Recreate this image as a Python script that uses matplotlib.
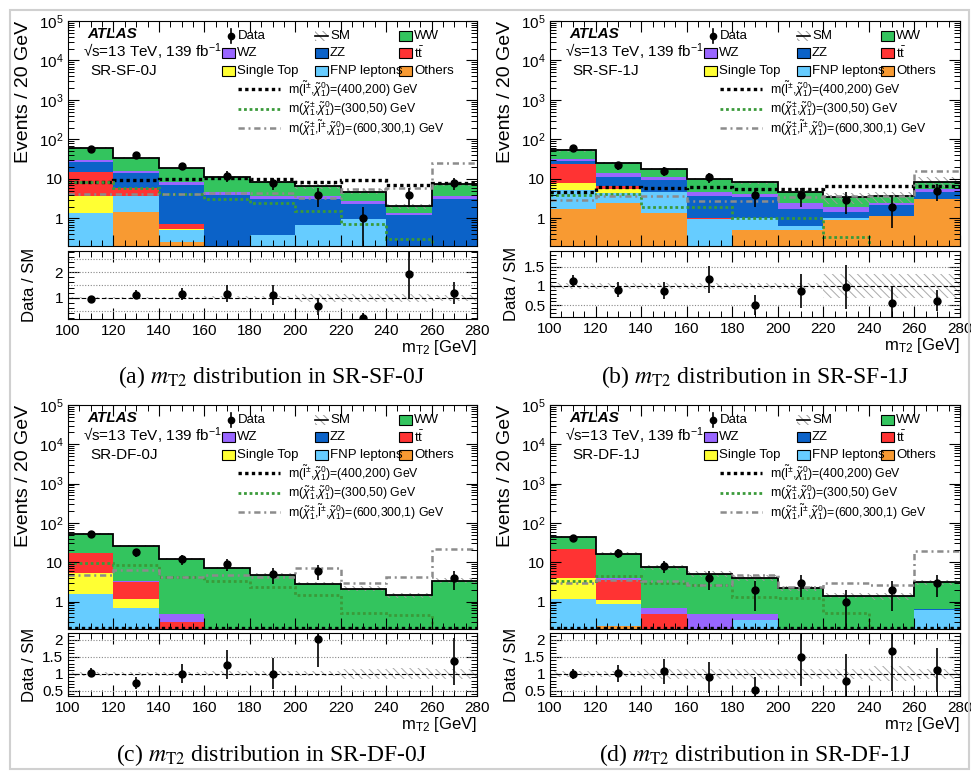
import numpy as np
import matplotlib.pyplot as plt
from matplotlib.patches import Rectangle
from matplotlib.ticker import MultipleLocator, AutoMinorLocator, FixedLocator, FuncFormatter, LogLocator

plt.rcParams['font.family'] = ['Liberation Sans', 'DejaVu Sans']
plt.rcParams['mathtext.fontset'] = 'custom'
plt.rcParams['mathtext.rm'] = 'Liberation Sans'
plt.rcParams['mathtext.it'] = 'Liberation Sans:italic'
plt.rcParams['mathtext.bf'] = 'Liberation Sans:bold'
plt.rcParams['hatch.linewidth'] = 0.7

edges = np.arange(100, 281, 20)
regions = ['SR-SF-0J', 'SR-SF-1J', 'SR-DF-0J', 'SR-DF-1J']
letters = ['a', 'b', 'c', 'd']

# backgrounds per region (rows: SF-0J, SF-1J, DF-0J, DF-1J), bins of 20 GeV from 100 to 280
others = [[0, 1.48, 0.26, 0, 0, 0, 0, 0.02, 0],
          [1.7, 2.5, 1.34, 0, 0.5, 0.5, 0.9, 1.15, 3.07],
          [0, 0, 0, 0, 0, 0, 0, 0, 0],
          [0, 0.245, 0, 0, 0, 0, 0, 0, 0]]
fnp = [[1.4, 2.12, 0.24, 0.05, 0.37, 0.67, 0.94, 0.05, 0.05],
       [3.4, 2.0, 3.46, 0.97, 0.5, 0.15, 0.14, 0, 0],
       [1.57, 0.69, 0, 0, 0, 0, 0, 0, 0],
       [1.17, 0.6, 0, 0, 0.34, 0, 0, 0, 0.6]]
single_top = [[2.3, 0, 0.04, 0, 0, 0, 0, 0, 0],
              [2.8, 1.0, 0, 0, 0, 0, 0, 0, 0],
              [3.83, 0.48, 0, 0, 0, 0, 0, 0, 0],
              [2.83, 0.22, 0, 0, 0, 0, 0, 0, 0]]
ttbar = [[11.1, 2.3, 0.2, 0, 0, 0, 0, 0, 0],
         [15.6, 1.2, 0, 0.03, 0, 0, 0, 0, 0],
         [11.9, 2.03, 0.3, 0, 0, 0, 0, 0, 0],
         [18.2, 2.54, 0.49, 0, 0, 0, 0, 0, 0]]
zz = [[12.2, 8.1, 6.26, 3.95, 2.73, 2.43, 1.36, 1.15, 3.05],
      [4.5, 4.5, 4.8, 2.6, 2.5, 1.09, 0.44, 1.05, 1.73],
      [0, 0, 0, 0, 0, 0, 0, 0, 0],
      [0, 0, 0, 0, 0, 0, 0, 0, 0.03]]
wz = [[3.0, 2.3, 1.2, 0.8, 0.5, 0.5, 0.4, 0.12, 0.5],
      [4.6, 3.1, 1.6, 1.2, 0.6, 0.66, 0.42, 0.3, 0.85],
      [0, 0.2, 0.17, 0, 0, 0, 0, 0, 0],
      [0, 0.4, 0.2, 0.49, 0.13, 0, 0, 0, 0.03]]
ww = [[30, 18.2, 10.2, 6.2, 4.8, 2.9, 2.1, 0.73, 3.8],
      [20.4, 11.4, 6.8, 5.2, 4.1, 2.4, 1.5, 1.1, 2.75],
      [35.2, 22.1, 11.93, 7.2, 4.85, 2.87, 2.14, 1.45, 3.4],
      [21.8, 12.6, 6.8, 4.56, 3.53, 2.2, 1.42, 1.37, 2.5]]

# relative SM uncertainty
sm_unc = [[0.05, 0.05, 0.05, 0.06, 0.06, 0.15, 0.15, 0.15, 0.12],
          [0.08, 0.07, 0.07, 0.07, 0.07, 0.08, 0.32, 0.32, 0.3],
          [0.06, 0.06, 0.06, 0.07, 0.07, 0.07, 0.15, 0.16, 0.15],
          [0.08, 0.08, 0.15, 0.15, 0.15, 0.15, 0.15, 0.22, 0.15]]

data = [[56, 40, 21, 12, 8, 4, 1, 4, 8],
        [59, 22, 16, 11, 4, 4, 3, 2, 5],
        [52, 18, 12, 9, 5, 6, 0, 0, 4],
        [42, 17, 8, 4, 2, 3, 1, 2, 3]]

ratio = [[0.95, 1.12, 1.15, 1.17, 1.1, 0.67, 0.2, 1.91, 1.18],
         [1.14, 0.9, 0.88, 1.17, 0.51, 0.87, 0.98, 0.57, 0.62],
         [1.04, 0.74, 1.01, 1.27, 1.01, 2.02, np.nan, np.nan, 1.37],
         [0.99, 1.02, 1.07, 0.9, 0.54, 1.5, 0.79, 1.68, 1.12]]

# signal benchmarks
sig_slep = [[8.2, 9.6, 10, 10.6, 10.2, 8.2, 9.2, 7.2, 7.7],
            [4.8, 6.1, 5.9, 6.1, 5.5, 5.65, 6.7, 6.5, 6.5],
            [0.21, 0.21, 0.21, 0.21, 0.21, 0.21, 0.21, 0.21, 0.21],
            [0.21, 0.21, 0.21, 0.21, 0.21, 0.21, 0.21, 0.21, 0.21]]
sig_c1c1 = [[8.2, 5.9, 4.2, 3.1, 2.5, 1.5, 0.72, 0.3, 0.18],
            [4.0, 4.2, 1.9, 1.9, 1.0, 1.0, 0.34, 0.15, 0.15],
            [9.4, 8.3, 4.3, 3.3, 2.4, 1.5, 0.51, 0.45, 0.15],
            [3.4, 4.5, 3.0, 2.6, 1.3, 1.24, 0.52, 0.15, 0.15]]
sig_c1slep = [[4.2, 4.2, 4.2, 4.4, 4.5, 3.3, 5.4, 6.0, 25.7],
              [2.95, 3.7, 3.8, 2.8, 2.8, 3.5, 3.6, 3.7, 16],
              [4.6, 6.2, 4.2, 4.6, 4.3, 7.1, 2.9, 4.1, 22],
              [3.0, 3.5, 3.3, 2.6, 4.8, 2.3, 3.0, 2.6, 19.8]]

bkg_names = ['Others', 'FNP leptons', 'Single Top', r't$\bar{\mathrm{t}}$', 'ZZ', 'WZ', 'WW']
bkg_colors = ['#f89a32', '#66ccff', '#ffff33', '#ff3333', '#0b62c8', '#9966ff', '#33c45e']
sig_labels = [r'm($\tilde{\mathrm{l}}^{\pm}$,$\tilde{\chi}_{1}^{0}$)=(400,200) GeV',
              r'm($\tilde{\chi}_{1}^{\pm}$,$\tilde{\chi}_{1}^{0}$)=(300,50) GeV',
              r'm($\tilde{\chi}_{1}^{\pm}$,$\tilde{\mathrm{l}}^{\pm}$,$\tilde{\chi}_{1}^{0}$)=(600,300,1) GeV']
sig_styles = [dict(color='black', ls=(0, (1, 1)), lw=2.4),
              dict(color='#3a9a3a', ls=(0, (1, 1)), lw=2.0),
              dict(color='#8c8c8c', ls=(0, (2.5, 1.5, 0.8, 1.5)), lw=1.8)]

ratio_ylim = [(0.18, 2.82), (0.2, 1.9), (0.35, 2.2), (0.35, 2.2)]
ratio_ticks = [[1, 2], [0.5, 1, 1.5], [0.5, 1, 1.5, 2], [0.5, 1, 1.5, 2]]
ratio_grid = [[0.5, 1.5, 2, 2.5], [0.5, 1.5], [0.5, 1.5, 2], [0.5, 1.5, 2]]

W, H = 971, 772
main_px = [(68, 21, 477, 246), (550, 21, 960, 246), (68, 405, 477, 629), (550, 405, 960, 629)]
ratio_px = [(68, 251, 477, 319), (550, 251, 960, 317), (68, 633, 477, 696), (550, 633, 960, 696)]
caption_px = [(272, 377), (755, 377), (272, 755), (755, 755)]


def box(p):
    l, t, r, b = p
    return [l / W, 1 - b / H, (r - l) / W, (b - t) / H]


def style_axes(ax):
    ax.tick_params(which='both', direction='in', top=True, right=True, labelsize=11)
    ax.tick_params(which='major', length=8, width=0.8)
    ax.tick_params(which='minor', length=4, width=0.7)
    ax.xaxis.set_major_locator(MultipleLocator(20))
    ax.xaxis.set_minor_locator(MultipleLocator(5))
    ax.set_xlim(100, 280)


def log_fmt(v, pos):
    if v == 1:
        return '1'
    if v == 10:
        return '10'
    return r'$10^{%d}$' % round(np.log10(v))


def draw_legend(ax, p):
    l, t, r, b = p
    w, h = r - l, b - t

    def fx(dx):
        return dx / w

    def fy(dy):
        return 1 - dy / h

    kw = dict(transform=ax.transAxes, clip_on=False)
    rows = [14.7, 32.3, 49.7]
    cols = [154, 247, 331]
    bw, bh = 13, 10
    grid = [[None, 'SM', 6], [5, 4, 3], [2, 1, 0]]
    for ri, row in enumerate(grid):
        for ci, item in enumerate(row):
            x0, y0 = cols[ci], rows[ri]
            if ri == 0 and ci == 0:
                ax.plot([fx(x0 + 9)], [fy(y0)], 'o', color='black', ms=4.5, **kw)
                ax.plot([fx(x0 + 9)] * 2, [fy(y0 - 7), fy(y0 + 7)], color='black', lw=1.2, **kw)
                ax.text(fx(x0 + 16), fy(y0), 'Data', fontsize=9.5, va='center', ha='left', transform=ax.transAxes)
                continue
            if item == 'SM':
                ax.add_patch(Rectangle((fx(x0), fy(y0 + bh / 2)), bw / w, bh / h, fill=False, hatch='\\\\\\\\',
                                       edgecolor='#999999', lw=0, **kw))
                ax.plot([fx(x0), fx(x0 + bw)], [fy(y0), fy(y0)], color='black', lw=1.2, **kw)
                ax.text(fx(x0 + 15), fy(y0), 'SM', fontsize=9.5, va='center', ha='left', transform=ax.transAxes)
                continue
            ax.add_patch(Rectangle((fx(x0), fy(y0 + bh / 2)), bw / w, bh / h, facecolor=bkg_colors[item],
                                   edgecolor='black', lw=0.8, **kw))
            ax.text(fx(x0 + 15), fy(y0), bkg_names[item], fontsize=9.5, va='center', ha='left',
                    transform=ax.transAxes)
    for k, dy in enumerate([68.3, 88, 107.3]):
        ax.plot([fx(170), fx(212)], [fy(dy), fy(dy)], **sig_styles[k], **kw)
        ax.text(fx(220), fy(dy), sig_labels[k], fontsize=8.8, va='center', ha='left', transform=ax.transAxes)


fig = plt.figure(figsize=(W / 100, H / 100), dpi=100)
fig.add_artist(Rectangle((10 / W, 3 / H), (W - 12) / W, (H - 13) / H, transform=fig.transFigure,
                         fill=False, edgecolor='#d0d0d0', lw=1.5))

centers = edges[:-1] + 10
for i in range(4):
    ax = fig.add_axes(box(main_px[i]))
    rax = fig.add_axes(box(ratio_px[i]))

    bottom = np.zeros(9)
    for vals, color in zip([others, fnp, single_top, ttbar, zz, wz, ww], bkg_colors):
        v = np.array(vals[i], dtype=float)
        ax.bar(edges[:-1], v, width=20, bottom=bottom, align='edge', color=color, linewidth=0)
        bottom = bottom + v
    total = bottom
    unc = np.array(sm_unc[i])
    ax.bar(edges[:-1], 2 * unc * total, bottom=total * (1 - unc), width=20, align='edge', fill=False,
           hatch='\\\\\\\\', edgecolor='#999999', linewidth=0)
    ax.stairs(total, edges, baseline=None, color='black', lw=1.3)

    for k, sig in enumerate([sig_slep, sig_c1c1, sig_c1slep]):
        ax.stairs(np.array(sig[i]), edges, baseline=None, **sig_styles[k])

    d = np.array(data[i], dtype=float)
    m = d > 0
    ax.errorbar(centers[m], d[m], yerr=np.sqrt(d[m]), fmt='o', color='black', ms=5, elinewidth=1.2,
                capsize=0)

    ax.set_yscale('log')
    ax.set_ylim(0.2, 1e5)
    style_axes(ax)
    ax.yaxis.set_major_locator(LogLocator(base=10, numticks=10))
    ax.yaxis.set_minor_locator(LogLocator(base=10, subs=np.arange(2, 10), numticks=20))
    ax.yaxis.set_major_formatter(FuncFormatter(log_fmt))
    ax.tick_params(labelbottom=False)
    ax.set_ylabel('Events / 20 GeV', fontsize=14, loc='top')
    ax.yaxis.set_label_coords(-0.088, 1.0)

    ax.text(19.3 / 409, 1 - 13.3 / 225, 'ATLAS', fontsize=11, fontweight='bold', fontstyle='italic',
            va='center', ha='left', transform=ax.transAxes)
    ax.text(15.3 / 409, 1 - 31.3 / 225, '\u221as=13 TeV, 139 fb$^{-1}$', fontsize=11, va='center', ha='left',
            transform=ax.transAxes)
    ax.text(22 / 409, 1 - 50 / 225, regions[i], fontsize=11, va='center', ha='left', transform=ax.transAxes)
    draw_legend(ax, main_px[i])

    # ratio panel
    for g in ratio_grid[i]:
        rax.axhline(g, color='#888888', ls=(0, (1, 1.5)), lw=0.8)
    rax.bar(edges[:-1], 2 * unc, bottom=1 - unc, width=20, align='edge', fill=False,
            hatch='\\\\\\\\', edgecolor='#aaaaaa', linewidth=0)
    rax.axhline(1, color='black', ls=(0, (4, 2)), lw=0.8)
    r = np.array(ratio[i], dtype=float)
    rerr = np.where(m, r / np.sqrt(np.where(m, d, 1)), np.nan)
    rax.errorbar(centers, r, yerr=rerr, fmt='o', color='black', ms=5, elinewidth=1.2, capsize=0, clip_on=True)
    style_axes(rax)
    rax.set_ylim(*ratio_ylim[i])
    rax.yaxis.set_major_locator(FixedLocator(ratio_ticks[i]))
    rax.yaxis.set_minor_locator(AutoMinorLocator(5))
    rax.yaxis.set_major_formatter(FuncFormatter(lambda v, p: ('%g' % v)))
    rax.set_ylabel('Data / SM', fontsize=12)
    rax.yaxis.set_label_coords(-0.076, 0.5)
    rax.set_xlabel(r'm$_{\mathrm{T2}}$ [GeV]', fontsize=12, loc='right', labelpad=0)

    cx, cy = caption_px[i]
    fig.text(cx / W, 1 - cy / H, '(%s) $m_{\\mathrm{T2}}$ distribution in %s' % (letters[i], regions[i]),
             ha='center', va='center', fontsize=17, family='Liberation Serif', math_fontfamily='stix')

fig.savefig('out.png', dpi=100)
